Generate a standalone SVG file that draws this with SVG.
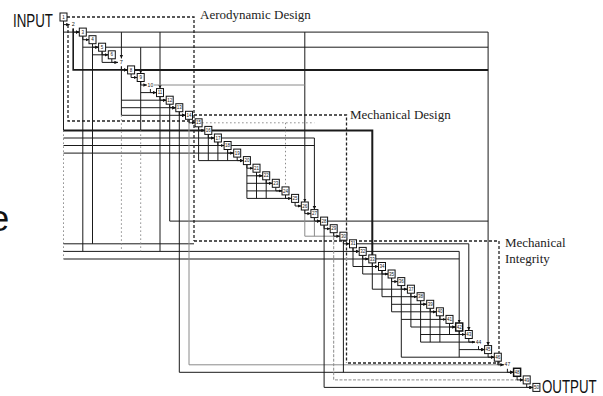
<svg xmlns="http://www.w3.org/2000/svg" width="603" height="396" viewBox="0 0 603 396">
<style>
.b{fill:#fff;stroke:#111;stroke-width:1}
.t{font-family:"Liberation Sans",Arial,sans-serif;font-size:4.5px;text-anchor:middle;fill:#111}
.l{fill:none;stroke:#1a1a1a;stroke-width:1}
.k{stroke-width:2}
.g{stroke:#8a8a8a}
.d{stroke-dasharray:1.5 2.5}
.r{fill:none;stroke:#222;stroke-width:1.3;stroke-dasharray:3 2}
.lab{font-family:"Liberation Serif","Times New Roman",serif;font-size:13px;fill:#222}
.big{font-family:"Liberation Sans",Arial,sans-serif;font-size:18.5px;fill:#111}
</style>
<defs>
<marker id="ah" markerWidth="4" markerHeight="4" refX="3.5" refY="2" orient="auto" markerUnits="userSpaceOnUse"><path d="M0,0.3L3.5,2L0,3.7z" fill="#111"/></marker>
</defs>
<rect width="603" height="396" fill="#fff"/>
<g id="regions">
<path class="r" d="M67,17H194V241"/>
<path class="r" d="M68,25V121H194"/>
<path class="r" d="M194,115H346.5V363"/>
<path class="r" d="M194,241H499V363H346.5"/>
</g>
<g id="connectors">
<g class="l">
<path d="M86.3,32.1H488.1V345.6" marker-end="url(#ah)"/>
<path d="M121.4,32.1V58.4" marker-end="url(#ah)"/>
<path d="M160,32.1V88.6" marker-end="url(#ah)"/>
<path d="M304.8,32.1V202" marker-end="url(#ah)"/>
<path d="M105.6,47.2H488.1"/>
<path d="M140.7,47.2V73.5" marker-end="url(#ah)"/>
<path class="k" d="M134.6,69.9H488.1"/>
<path style="stroke-width:1.6" d="M73.2,28.6V69.9H127.6" marker-end="url(#ah)"/>
<path class="g" d="M153.9,85H304.8"/>
<path d="M63.5,21V130.4"/>
<path class="g d" d="M63.5,130.4V258.9"/>
<path d="M63.5,32.1H79.3" marker-end="url(#ah)"/>
<path class="k" d="M63.5,130.4H204.8"/>
<path d="M63.5,138H214.4"/>
<path d="M63.5,145.5H224.1"/>
<path d="M63.5,153.1H233.7"/>
<path d="M63.5,243.8H194"/>
<path d="M63.5,251.4H359.2" marker-end="url(#ah)"/>
<path class="g k" d="M63.5,258.9H368.8"/>
<path class="k" d="M211.8,130.4H372.3V254.9"/>
<path d="M221.4,138H314.4V209.6" marker-end="url(#ah)"/>
<path d="M231.1,145.5H314.4"/>
<path class="g d" d="M202.1,122.8H314.4"/>
<path class="g d" d="M285.5,122.8V186.9"/>
<path d="M82.8,36.1V251.4"/>
<path d="M82.8,47.2H98.6"/>
<path d="M92.5,43.7V243.8"/>
<path d="M92.5,54.8H108.3"/>
<path d="M102.1,51.2V62.4H117.9"/>
<path d="M121.4,66.4V115.3"/>
<path d="M121.4,100.2H166.2" marker-end="url(#ah)"/>
<path d="M121.4,107.7H175.8" marker-end="url(#ah)"/>
<path d="M121.4,115.3H185.5" marker-end="url(#ah)"/>
<path class="g d" d="M121.4,115.3V251.4"/>
<path d="M140.7,81.5V130.4"/>
<path class="g d" d="M140.7,130.4V251.4"/>
<path d="M140.7,92.6H156.5"/>
<path d="M160,96.6V251.4"/>
<path d="M169.7,104.2V221.1H320.6" marker-end="url(#ah)"/>
<path d="M327.6,221.1H488.1"/>
<path d="M179.3,111.7V372.3H513.6" marker-end="url(#ah)"/>
<path class="g" d="M189,119.3V364.8H503.9"/>
<path d="M198.6,126.8V160.6H243.4" marker-end="url(#ah)"/>
<path d="M208.3,134.4V160.6"/>
<path d="M217.9,142V160.6"/>
<path d="M227.6,149.5V160.6"/>
<path d="M246.9,164.6V198.4"/>
<path d="M256.5,172.2V198.4"/>
<path d="M266.2,179.8V198.4"/>
<path d="M246.9,175.8H262.7"/>
<path d="M246.9,183.3H272.3"/>
<path d="M246.9,190.9H282"/>
<path d="M246.9,198.4H291.6"/>
<path class="g" d="M304.8,210V236.2H339.9"/>
<path class="g" d="M314.4,217.6V236.2"/>
<path d="M324.1,225.1V387.4H532.9" marker-end="url(#ah)"/>
<path class="g" style="stroke-dasharray:3 1.5" d="M333.7,232.7V379.9H523.2" marker-end="url(#ah)"/>
<path d="M343.4,240.2V372.3"/>
<path d="M356.5,243.8H468.8V330.5" marker-end="url(#ah)"/>
<path d="M366.2,251.4H459.2V323" marker-end="url(#ah)"/>
<path d="M375.8,258.9H459.2"/>
<path d="M353,247.8V266.5H378.5"/>
<path d="M362.7,255.4V274H388.1"/>
<path d="M372.3,262.9V289.2H407.4"/>
<path d="M382,296.7H417.1"/>
<path d="M391.6,304.3H426.7"/>
<path d="M391.6,311.8H436.4"/>
<path d="M401.3,319.4H446"/>
<path d="M410.9,327H455.7"/>
<path d="M420.6,334.5H465.3"/>
<path d="M420.6,342.1H475"/>
<path d="M382,270.5V296.7"/>
<path d="M391.6,278V311.8"/>
<path d="M401.3,285.6V357.2H494.3" marker-end="url(#ah)"/>
<path d="M410.9,293.2V327"/>
<path d="M420.6,300.7V342.1"/>
<path d="M430.2,308.3V342.1"/>
<path d="M439.9,315.8V342.1"/>
<path d="M449.5,323.4V334.5"/>
<path d="M459.2,331V357.2"/>
<path d="M459.2,349.6H484.6" marker-end="url(#ah)"/>
</g>
<g class="l" marker-end="url(#ah)">
<path d="M63.5,21V24.6H69.7"/>
<path d="M73.2,28.6V32.1H79.3"/>
<path d="M82.8,36.1V39.7H89"/>
<path d="M92.5,43.7V47.2H98.6"/>
<path d="M102.1,51.2V54.8H108.3"/>
<path d="M111.8,58.8V62.4H117.9"/>
<path d="M121.4,66.4V69.9H127.6"/>
<path d="M131.1,73.9V77.5H137.2"/>
<path d="M140.7,81.5V85H146.9"/>
<path d="M150.4,89V92.6H156.5"/>
<path d="M160,96.6V100.2H166.2"/>
<path d="M169.7,104.2V107.7H175.8"/>
<path d="M179.3,111.7V115.3H185.5"/>
<path d="M189,119.3V122.8H195.1"/>
<path d="M198.6,126.8V130.4H204.8"/>
<path d="M208.3,134.4V138H214.4"/>
<path d="M217.9,142V145.5H224.1"/>
<path d="M227.6,149.5V153.1H233.7"/>
<path d="M237.2,157.1V160.6H243.4"/>
<path d="M246.9,164.6V168.2H253"/>
<path d="M256.5,172.2V175.8H262.7"/>
<path d="M266.2,179.8V183.3H272.3"/>
<path d="M275.8,187.3V190.9H282"/>
<path d="M285.5,194.9V198.4H291.6"/>
<path d="M295.1,202.4V206H301.3"/>
<path d="M304.8,210V213.6H310.9"/>
<path d="M314.4,217.6V221.1H320.6"/>
<path d="M324.1,225.1V228.7H330.2"/>
<path d="M333.7,232.7V236.2H339.9"/>
<path d="M343.4,240.2V243.8H349.5"/>
<path d="M353,247.8V251.4H359.2"/>
<path d="M362.7,255.4V258.9H368.8"/>
<path d="M372.3,262.9V266.5H378.5"/>
<path d="M382,270.5V274H388.1"/>
<path d="M391.6,278V281.6H397.8"/>
<path d="M401.3,285.6V289.2H407.4"/>
<path d="M410.9,293.2V296.7H417.1"/>
<path d="M420.6,300.7V304.3H426.7"/>
<path d="M430.2,308.3V311.8H436.4"/>
<path d="M439.9,315.8V319.4H446"/>
<path d="M449.5,323.4V327H455.7"/>
<path d="M459.2,331V334.5H465.3"/>
<path d="M468.8,338.5V342.1H475"/>
<path d="M478.5,346.1V349.6H484.6"/>
<path d="M488.1,353.6V357.2H494.3"/>
<path d="M497.8,361.2V364.8H503.9"/>
<path d="M507.4,368.8V372.3H513.6"/>
<path d="M517.1,376.3V379.9H523.2"/>
<path d="M526.7,383.9V387.4H532.9"/>
</g>
</g>
<g id="n1" transform="translate(63.5,17)"><rect class="b" x="-3.5" y="-4" width="7" height="8"/><text class="t" y="1.6">1</text></g>
<g id="n2" transform="translate(73.2,24.6)"><text class="t" y="1.6" style="font-size:5.5px">2</text></g>
<g id="n3" transform="translate(82.8,32.1)"><rect class="b" x="-3.5" y="-4" width="7" height="8"/><text class="t" y="1.6">3</text></g>
<g id="n4" transform="translate(92.5,39.7)"><rect class="b" x="-3.5" y="-4" width="7" height="8"/><text class="t" y="1.6">4</text></g>
<g id="n5" transform="translate(102.1,47.2)"><rect class="b" x="-3.5" y="-4" width="7" height="8"/><text class="t" y="1.6">5</text></g>
<g id="n6" transform="translate(111.8,54.8)"><rect class="b" x="-3.5" y="-4" width="7" height="8"/><text class="t" y="1.6">6</text></g>
<g id="n7" transform="translate(121.4,62.4)"><text class="t" y="1.6" style="font-size:5.5px">7</text></g>
<g id="n8" transform="translate(131.1,69.9)"><rect class="b" x="-3.5" y="-4" width="7" height="8"/><text class="t" y="1.6">8</text></g>
<g id="n9" transform="translate(140.7,77.5)"><rect class="b" x="-3.5" y="-4" width="7" height="8"/><text class="t" y="1.6">9</text></g>
<g id="n10" transform="translate(150.4,85)"><text class="t" y="1.6" style="font-size:5px">10</text></g>
<g id="n11" transform="translate(160,92.6)"><rect class="b" x="-3.5" y="-4" width="7" height="8"/><text class="t" y="1.6">11</text></g>
<g id="n12" transform="translate(169.7,100.2)"><rect class="b" x="-3.5" y="-4" width="7" height="8"/><text class="t" y="1.6">12</text></g>
<g id="n13" transform="translate(179.3,107.7)"><rect class="b" x="-3.5" y="-4" width="7" height="8"/><text class="t" y="1.6">13</text></g>
<g id="n14" transform="translate(189,115.3)"><rect class="b" x="-3.5" y="-4" width="7" height="8"/><text class="t" y="1.6">14</text></g>
<g id="n15" transform="translate(198.6,122.8)"><rect class="b" x="-3.5" y="-4" width="7" height="8"/><text class="t" y="1.6">15</text></g>
<g id="n16" transform="translate(208.3,130.4)"><rect class="b" x="-3.5" y="-4" width="7" height="8"/><text class="t" y="1.6">16</text></g>
<g id="n17" transform="translate(217.9,138)"><rect class="b" x="-3.5" y="-4" width="7" height="8"/><text class="t" y="1.6">17</text></g>
<g id="n18" transform="translate(227.6,145.5)"><rect class="b" x="-3.5" y="-4" width="7" height="8"/><text class="t" y="1.6">18</text></g>
<g id="n19" transform="translate(237.2,153.1)"><rect class="b" x="-3.5" y="-4" width="7" height="8"/><text class="t" y="1.6">19</text></g>
<g id="n20" transform="translate(246.9,160.6)"><rect class="b" x="-3.5" y="-4" width="7" height="8"/><text class="t" y="1.6">20</text></g>
<g id="n21" transform="translate(256.5,168.2)"><rect class="b" x="-3.5" y="-4" width="7" height="8"/><text class="t" y="1.6">21</text></g>
<g id="n22" transform="translate(266.2,175.8)"><rect class="b" x="-3.5" y="-4" width="7" height="8"/><text class="t" y="1.6">22</text></g>
<g id="n23" transform="translate(275.8,183.3)"><rect class="b" x="-3.5" y="-4" width="7" height="8"/><text class="t" y="1.6">23</text></g>
<g id="n24" transform="translate(285.5,190.9)"><rect class="b" x="-3.5" y="-4" width="7" height="8"/><text class="t" y="1.6">24</text></g>
<g id="n25" transform="translate(295.1,198.4)"><rect class="b" x="-3.5" y="-4" width="7" height="8"/><text class="t" y="1.6">25</text></g>
<g id="n26" transform="translate(304.8,206)"><rect class="b" x="-3.5" y="-4" width="7" height="8"/><text class="t" y="1.6">26</text></g>
<g id="n27" transform="translate(314.4,213.6)"><rect class="b" x="-3.5" y="-4" width="7" height="8"/><text class="t" y="1.6">27</text></g>
<g id="n28" transform="translate(324.1,221.1)"><rect class="b" x="-3.5" y="-4" width="7" height="8"/><text class="t" y="1.6">28</text></g>
<g id="n29" transform="translate(333.7,228.7)"><rect class="b" x="-3.5" y="-4" width="7" height="8"/><text class="t" y="1.6">29</text></g>
<g id="n30" transform="translate(343.4,236.2)"><rect class="b" x="-3.5" y="-4" width="7" height="8"/><text class="t" y="1.6">30</text></g>
<g id="n31" transform="translate(353,243.8)"><rect class="b" x="-3.5" y="-4" width="7" height="8"/><text class="t" y="1.6">31</text></g>
<g id="n32" transform="translate(362.7,251.4)"><rect class="b" x="-3.5" y="-4" width="7" height="8"/><text class="t" y="1.6">32</text></g>
<g id="n33" transform="translate(372.3,258.9)"><rect class="b" x="-3.5" y="-4" width="7" height="8"/><text class="t" y="1.6">33</text></g>
<g id="n34" transform="translate(382,266.5)"><rect class="b" x="-3.5" y="-4" width="7" height="8"/><text class="t" y="1.6">34</text></g>
<g id="n35" transform="translate(391.6,274)"><rect class="b" x="-3.5" y="-4" width="7" height="8"/><text class="t" y="1.6">35</text></g>
<g id="n36" transform="translate(401.3,281.6)"><rect class="b" x="-3.5" y="-4" width="7" height="8"/><text class="t" y="1.6">36</text></g>
<g id="n37" transform="translate(410.9,289.2)"><rect class="b" x="-3.5" y="-4" width="7" height="8"/><text class="t" y="1.6">37</text></g>
<g id="n38" transform="translate(420.6,296.7)"><rect class="b" x="-3.5" y="-4" width="7" height="8"/><text class="t" y="1.6">38</text></g>
<g id="n39" transform="translate(430.2,304.3)"><rect class="b" x="-3.5" y="-4" width="7" height="8"/><text class="t" y="1.6">39</text></g>
<g id="n40" transform="translate(439.9,311.8)"><rect class="b" x="-3.5" y="-4" width="7" height="8"/><text class="t" y="1.6">40</text></g>
<g id="n41" transform="translate(449.5,319.4)"><rect class="b" x="-3.5" y="-4" width="7" height="8"/><text class="t" y="1.6">41</text></g>
<g id="n42" transform="translate(459.2,327)"><rect class="b" x="-3.5" y="-4" width="7" height="8" style="stroke-width:1.5"/><text class="t" y="1.6">42</text></g>
<g id="n43" transform="translate(468.8,334.5)"><rect class="b" x="-3.5" y="-4" width="7" height="8"/><text class="t" y="1.6">43</text></g>
<g id="n44" transform="translate(478.5,342.1)"><text class="t" y="1.6" style="font-size:5px">44</text></g>
<g id="n45" transform="translate(488.1,349.6)"><rect class="b" x="-3.5" y="-4" width="7" height="8"/><text class="t" y="1.6">45</text></g>
<g id="n46" transform="translate(497.8,357.2)"><rect class="b" x="-3.5" y="-4" width="7" height="8"/><text class="t" y="1.6">46</text></g>
<g id="n47" transform="translate(507.4,364.8)"><text class="t" y="1.6" style="font-size:5px">47</text></g>
<g id="n48" transform="translate(517.1,372.3)"><rect class="b" x="-3.5" y="-4" width="7" height="8" style="stroke-width:1.5"/><text class="t" y="1.6">48</text></g>
<g id="n49" transform="translate(526.7,379.9)"><rect class="b" x="-3.5" y="-4" width="7" height="8"/><text class="t" y="1.6">49</text></g>
<g id="n50" transform="translate(536.4,387.4)"><rect class="b" x="-3.5" y="-4" width="7" height="8"/><text class="t" y="1.6">50</text></g>
<g id="labels">
<text class="big" transform="translate(13,26.5) scale(0.72,1)">INPUT</text>
<text class="big" transform="translate(542,393) scale(0.72,1)">OUTPUT</text>
<text class="lab" x="200" y="18.5">Aerodynamic Design</text>
<text class="lab" x="350" y="119">Mechanical Design</text>
<text class="lab" x="505" y="247">Mechanical</text>
<text class="lab" x="505" y="262.5">Integrity</text>
<text x="-10.7" y="231" style="font-family:'Liberation Sans',Arial,sans-serif;font-size:36px;fill:#111">e</text>
</g>
</svg>
